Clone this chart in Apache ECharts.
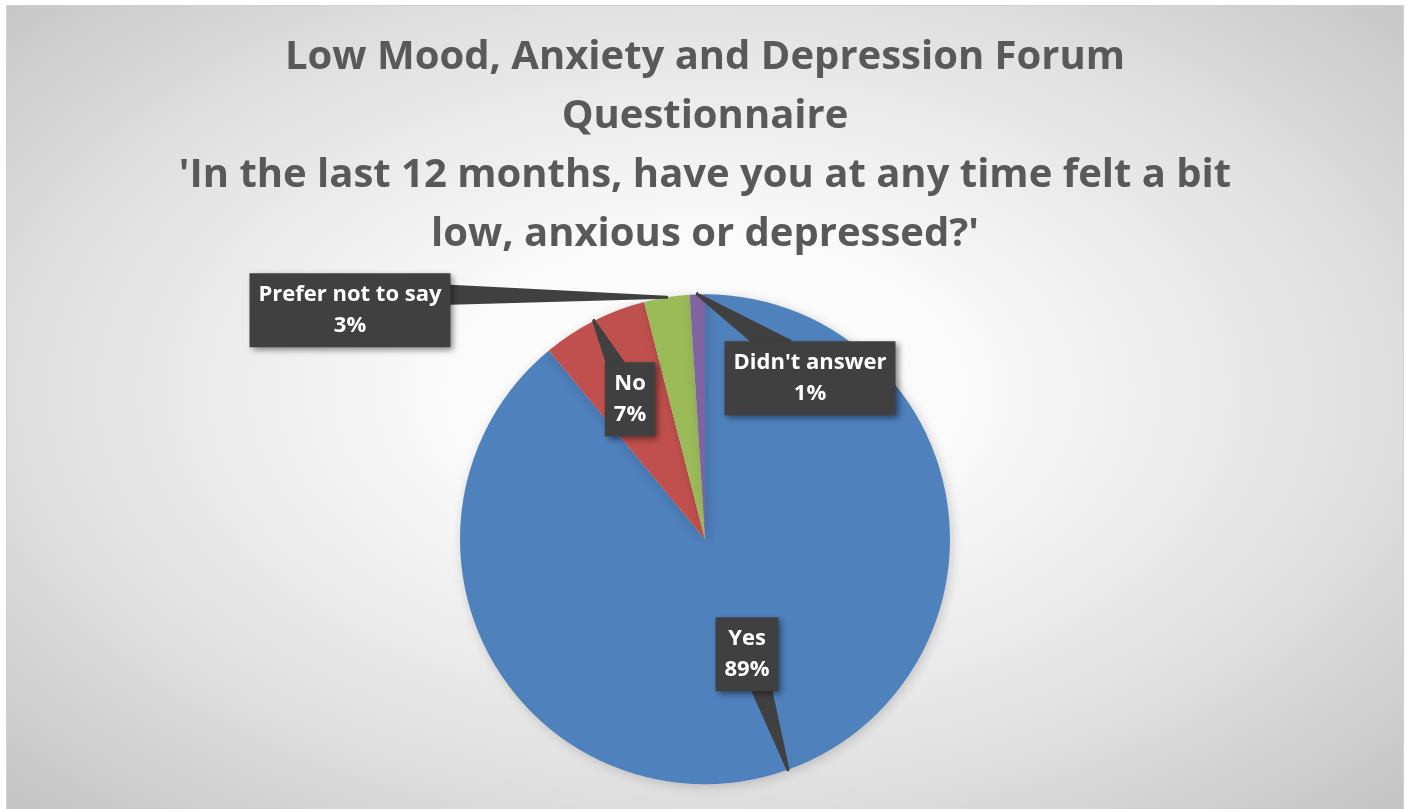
<!DOCTYPE html>
<html>
<head>
<meta charset="utf-8">
<script src="https://cdn.jsdelivr.net/npm/echarts@6/dist/echarts.min.js"></script>
<style>
  html, body { margin: 0; padding: 0; background: #fff; }
  #Chart {
    position: absolute; left: 6px; top: 5px; width: 1396px; height: 803px;
    border: 1px solid #d0d0d0;
    background: radial-gradient(ellipse at 50% 48%, #ffffff 0%, #fbfbfb 25%, #e2e2e2 65%, #c4c4c4 100%);
  }
</style>
</head>
<body>
<div id="Chart"></div>
<script>
var titleLines = [
  'Low Mood, Anxiety and Depression Forum',
  'Questionnaire',
  "'In the last 12 months, have you at any time felt a bit",
  "low, anxious or depressed?'"
];
var categories = ['Yes', 'No', 'Prefer not to say', "Didn't answer"];
var values = [89, 7, 3, 1];
var colors = ['#4f81bd', '#c0504d', '#9bbb59', '#8064a2'];

// callout box centre, relative to pie centre, and where the pointer joins the box
var calloutOffset = [[42, 115], [-75, -140], [-355, -229], [105, -161]];
var pointerBase = [
  function (w, h) { return [[6, h / 2], [24, h / 2]]; },
  function (w, h) { return [[-23, -h / 2], [-7, -h / 2]]; },
  function (w, h) { return [[w / 2, -24], [w / 2, -7]]; },
  function (w, h) { return [[-58, -h / 2], [-20, -h / 2]]; }
];

var dom = document.getElementById('Chart');
var myChart = echarts.init(dom);
var center = ['50%', '66.4%'];
var radius = 245;

function pct(v, total) {
  return typeof v === 'string' ? parseFloat(v) / 100 * total : v;
}

function pieData(transparent) {
  return categories.map(function (name, i) {
    return {
      name: name,
      value: values[i],
      itemStyle: { color: transparent ? 'rgba(0,0,0,0)' : colors[i] }
    };
  });
}

option = {
  title: {
    text: titleLines.join('\n'),
    left: 'center',
    top: 22,
    padding: 0,
    textStyle: {
      fontFamily: 'Open Sans',
      fontSize: 40,
      fontWeight: 'bold',
      color: '#595959',
      lineHeight: 59
    }
  },
  series: [{
    // the slices
    type: 'pie',
    center: center,
    radius: radius,
    startAngle: 90,
    clockwise: true,
    animation: false,
    silent: true,
    z: 2,
    itemStyle: {
      shadowBlur: 12,
      shadowColor: 'rgba(0,0,0,0.18)',
      shadowOffsetX: 2,
      shadowOffsetY: 2
    },
    label: { show: false },
    labelLine: { show: false },
    data: pieData(false)
  }, {
    // the callouts, drawn on top
    type: 'pie',
    center: center,
    radius: radius,
    startAngle: 90,
    clockwise: true,
    percentPrecision: 0,
    animation: false,
    silent: true,
    z: 5,
    label: {
      show: true,
      position: 'outside',
      formatter: '{b}\n{d}%',
      fontFamily: 'Open Sans',
      fontWeight: 'bold',
      fontSize: 22,
      lineHeight: 31,
      color: '#ffffff',
      backgroundColor: '#404040',
      padding: [6, 9],
      shadowColor: 'rgba(0,0,0,0.45)',
      shadowBlur: 6,
      shadowOffsetX: 3,
      shadowOffsetY: 3
    },
    labelLine: {
      show: true,
      showAbove: true,
      lineStyle: { color: '#404040', width: 3, join: 'round' }
    },
    labelLayout: function (p) {
      var i = p.dataIndex;
      var cx = pct(center[0], myChart.getWidth());
      var cy = pct(center[1], myChart.getHeight());
      var x = cx + calloutOffset[i][0];
      var y = cy + calloutOffset[i][1];
      var w = p.labelRect.width, h = p.labelRect.height;
      var tip = p.labelLinePoints ? p.labelLinePoints[0] : [x, y];
      var b = pointerBase[i](w, h);
      var pts = [tip];
      var n = 16;
      for (var k = 0; k <= n; k++) {
        var t = k / n;
        pts.push([x + b[0][0] + (b[1][0] - b[0][0]) * t, y + b[0][1] + (b[1][1] - b[0][1]) * t]);
        pts.push(tip);
      }
      return {
        x: x,
        y: y,
        align: 'center',
        verticalAlign: 'middle',
        labelLinePoints: pts
      };
    },
    data: pieData(true)
  }]
};
if (option && typeof option === 'object') {
  myChart.setOption(option, true);
}
</script>
</body>
</html>
